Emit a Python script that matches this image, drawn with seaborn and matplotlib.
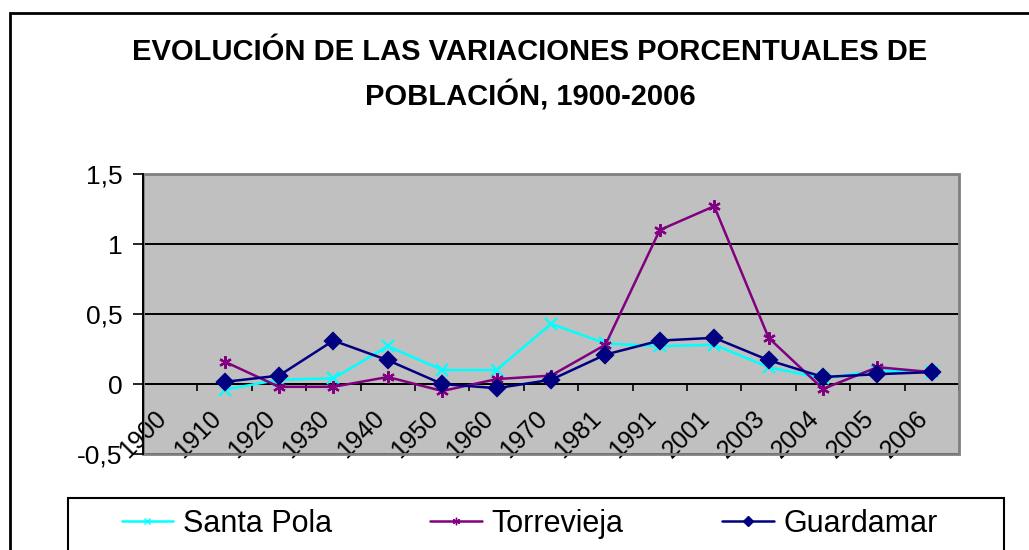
import numpy as np
import pandas as pd
import seaborn as sns
import matplotlib.pyplot as plt
from matplotlib.patches import Rectangle
from matplotlib.lines import Line2D
from matplotlib.transforms import ScaledTranslation

# datos
years = ['1900', '1910', '1920', '1930', '1940', '1950', '1960', '1970',
         '1981', '1991', '2001', '2003', '2004', '2005', '2006']
data_years = years[1:]

santa_pola = [-0.04, 0.03, 0.04, 0.27, 0.10, 0.10, 0.43, 0.29, 0.27, 0.28, 0.12, 0.04, 0.095, 0.085]
torrevieja = [0.16, -0.02, -0.02, 0.05, -0.05, 0.035, 0.06, 0.28, 1.10, 1.27, 0.33, -0.035, 0.12, 0.085]
guardamar = [0.015, 0.06, 0.31, 0.17, 0.0, -0.03, 0.03, 0.21, 0.31, 0.33, 0.17, 0.05, 0.07, 0.085]

series_names = ['Santa Pola', 'Torrevieja', 'Guardamar']
colors = ['#00FFFF', '#800080', '#000080']
markers = ['x', (6, 2, 0), 'D']
msizes = [8, 9, 8]

y_ticks = [-0.5, 0, 0.5, 1, 1.5]
y_labels = ['-0,5', '0', '0,5', '1', '1,5']

title_1 = 'EVOLUCIÓN DE LAS VARIACIONES PORCENTUALES DE'
title_2 = 'POBLACIÓN, 1900-2006'

rows = []
for name, vals in zip(series_names, [santa_pola, torrevieja, guardamar]):
    for yr, v in zip(data_years, vals):
        rows.append({'serie': name, 'pos': years.index(yr), 'valor': v})
df = pd.DataFrame(rows)

sns.set_style('white')
plt.rcParams['font.family'] = ['Liberation Sans', 'DejaVu Sans']
plt.rcParams['text.color'] = 'black'
plt.rcParams['xtick.color'] = 'black'
plt.rcParams['ytick.color'] = 'black'
plt.rcParams['axes.labelcolor'] = 'black'

W, H = 1029, 550
fig = plt.figure(figsize=(W / 100, H / 100), dpi=100)
ax = fig.add_axes([143 / W, 1 - 454 / H, (959 - 143) / W, (454 - 174) / H])
ax.set_facecolor('#C0C0C0')

for name, c, m, ms in zip(series_names, colors, markers, msizes):
    sub = df[df['serie'] == name]
    sns.lineplot(data=sub, x='pos', y='valor', ax=ax, color=c, marker=m,
                 markersize=ms, markeredgecolor=c, markerfacecolor=c,
                 markeredgewidth=1.6, linewidth=1.8, legend=False, zorder=5)

ax.set_xlim(-0.5, len(years) - 0.5)
ax.set_ylim(-0.5, 1.5)
ax.set_xlabel('')
ax.set_ylabel('')

# ejes
ax.set_yticks(y_ticks)
ax.set_yticklabels(y_labels, fontsize=19)
ax.set_xticks(np.arange(-0.5, len(years), 1))
ax.set_xticklabels([])
ax.tick_params(axis='y', direction='out', length=7, width=1.2, color='black', pad=8, left=True)
ax.tick_params(axis='x', direction='out', length=5, width=1.2, color='black', bottom=True)
ax.grid(axis='y', color='black', linewidth=1.4)
ax.grid(axis='x', visible=False)

for s in ['top', 'right']:
    ax.spines[s].set_visible(False)
ax.spines['bottom'].set_position(('data', 0))
ax.spines['bottom'].set_color('black')
ax.spines['bottom'].set_linewidth(1.4)
ax.spines['left'].set_color('black')
ax.spines['left'].set_linewidth(1.4)
ax.spines['left'].set_zorder(6)
ax.add_patch(Rectangle((0, 0), 1, 1, transform=ax.transAxes, fill=False,
                       edgecolor='#808080', linewidth=2, clip_on=False, zorder=4))

# etiquetas del eje x (giradas, como en Excel)
off = ScaledTranslation(-0.16, -0.22, fig.dpi_scale_trans)
for i, yr in enumerate(years):
    ax.text(i, 0, yr, transform=ax.transData + off, rotation=45,
            rotation_mode='anchor', ha='right', va='top', fontsize=18, zorder=3)

# titulo
fig.text(530 / W, 1 - 52 / H, title_1, ha='center', va='center',
         fontsize=21, fontweight='bold')
fig.text(530 / W, 1 - 96 / H, title_2, ha='center', va='center',
         fontsize=21, fontweight='bold')

# marco del grafico y de la leyenda
fig.patches.append(Rectangle((10 / W, -0.1), 1.1, 1 - 13 / H + 0.1,
                             transform=fig.transFigure, fill=False,
                             edgecolor='black', linewidth=2))
fig.patches.append(Rectangle((68 / W, -0.1), (1004 - 68) / W, 1 - 498 / H + 0.1,
                             transform=fig.transFigure, fill=False,
                             edgecolor='black', linewidth=1.5))

handles = [Line2D([], [], color=c, marker=m, markersize=ms * 0.6,
                  markeredgecolor=c, markerfacecolor=c, linewidth=1.8)
           for c, m, ms in zip(colors, markers, msizes)]
fig.legend(handles, series_names, loc='center left', ncol=3, frameon=False,
           bbox_to_anchor=(94 / W, 1 - 524 / H), fontsize=22,
           handlelength=1.7, handletextpad=0.32, columnspacing=3.2)

fig.savefig('out.png', dpi=100)
